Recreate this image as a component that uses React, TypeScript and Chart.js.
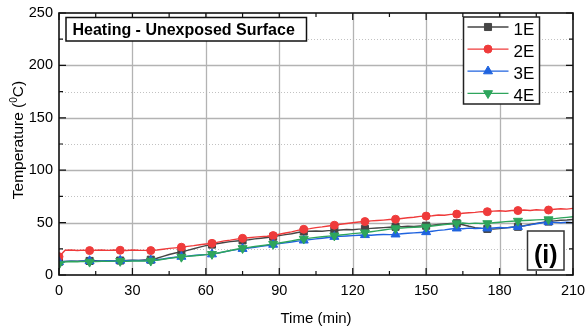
import { useEffect, useRef } from "react";
import { Chart, registerables } from "chart.js";

Chart.register(...registerables);

// Time axis (min), sampled every 2.5 min
const TIME_MIN = [
  0, 2.5, 5, 7.5, 10, 12.5, 15, 17.5, 20, 22.5,
  25, 27.5, 30, 32.5, 35, 37.5, 40, 42.5, 45, 47.5,
  50, 52.5, 55, 57.5, 60, 62.5, 65, 67.5, 70, 72.5,
  75, 77.5, 80, 82.5, 85, 87.5, 90, 92.5, 95, 97.5,
  100, 102.5, 105, 107.5, 110, 112.5, 115, 117.5, 120, 122.5,
  125, 127.5, 130, 132.5, 135, 137.5, 140, 142.5, 145, 147.5,
  150, 152.5, 155, 157.5, 160, 162.5, 165, 167.5, 170, 172.5,
  175, 177.5, 180, 182.5, 185, 187.5, 190, 192.5, 195, 197.5,
  200, 202.5, 205, 207.5, 210,
];

// Unexposed-surface temperatures (°C)
const T_1E = [
  12.6, 13.0, 13.2, 13.1, 13.4, 13.4, 13.6, 13.3, 13.7, 13.5,
  13.8, 13.9, 14.1, 14.0, 14.3, 14.6, 16.0, 17.8, 19.6, 21.0,
  22.0, 23.5, 25.0, 26.6, 28.0, 29.0, 30.0, 31.0, 31.8, 32.4,
  33.0, 33.6, 34.5, 35.1, 35.8, 36.5, 37.6, 38.5, 39.4, 40.6,
  41.5, 41.8, 42.0, 41.7, 42.3, 42.5, 43.0, 43.4, 43.2, 43.8,
  44.0, 44.5, 44.9, 45.2, 45.6, 46.0, 46.2, 46.5, 46.3, 46.8,
  47.0, 47.6, 48.2, 48.8, 49.2, 49.4, 48.0, 46.5, 45.2, 44.5,
  44.0, 43.8, 44.3, 45.0, 45.6, 46.0, 47.0, 48.2, 49.3, 50.2,
  51.0, 51.6, 52.2, 52.5, 53.0,
];
const T_2E = [
  17.5, 23.6, 23.8, 23.4, 23.7, 23.3, 23.6, 23.9, 23.5, 23.8,
  23.6, 23.4, 23.9, 23.6, 23.5, 23.3, 23.8, 24.6, 25.4, 25.9,
  26.5, 27.3, 28.0, 28.9, 29.6, 30.2, 31.4, 32.6, 33.3, 34.2,
  35.0, 35.5, 36.1, 36.6, 37.0, 37.6, 38.9, 40.1, 41.2, 42.6,
  43.6, 44.3, 45.2, 45.9, 46.8, 47.5, 48.4, 49.1, 49.8, 50.6,
  51.0, 51.6, 52.0, 52.4, 52.9, 53.2, 53.9, 54.6, 55.1, 55.9,
  56.2, 56.6, 57.3, 57.0, 57.8, 58.1, 58.9, 59.4, 59.8, 60.5,
  60.4, 60.9, 61.3, 60.8, 61.6, 61.5, 62.0, 61.6, 62.3, 61.9,
  62.0, 62.8, 63.2, 62.9, 63.6,
];
const T_3E = [
  12.4, 12.9, 13.2, 13.0, 13.3, 13.4, 13.2, 13.5, 13.6, 13.4,
  13.8, 13.6, 13.9, 14.0, 13.8, 14.0, 14.6, 15.3, 16.2, 16.9,
  17.5, 18.0, 18.6, 19.1, 19.4, 19.8, 20.9, 22.1, 23.2, 24.2,
  25.0, 25.8, 26.5, 27.3, 28.1, 29.0, 29.9, 30.7, 31.5, 32.3,
  33.0, 33.8, 34.5, 35.1, 35.8, 36.5, 36.9, 37.2, 37.6, 37.9,
  38.2, 38.0, 38.4, 38.7, 38.5, 38.8, 39.3, 39.8, 40.2, 40.6,
  41.0, 41.8, 42.6, 43.1, 43.9, 44.5, 44.2, 44.7, 44.3, 44.6,
  44.5, 44.9, 45.3, 45.0, 45.6, 46.0, 46.9, 47.8, 48.9, 49.8,
  50.5, 50.2, 49.8, 50.3, 50.0,
];
const T_4E = [
  10.2, 12.6, 12.9, 12.7, 13.0, 12.5, 12.8, 13.1, 13.0, 13.2,
  13.2, 13.0, 13.4, 13.5, 13.3, 13.5, 14.1, 15.0, 15.9, 16.7,
  17.2, 17.8, 18.4, 18.9, 19.4, 19.9, 21.0, 22.2, 23.4, 24.6,
  25.5, 26.4, 27.2, 27.9, 28.7, 29.5, 30.5, 31.5, 32.6, 33.6,
  34.5, 35.2, 35.9, 36.5, 37.1, 37.5, 38.2, 38.8, 39.5, 40.0,
  40.5, 41.3, 42.1, 42.9, 43.8, 44.5, 44.8, 45.2, 45.5, 45.8,
  46.0, 46.8, 47.5, 48.1, 48.7, 49.2, 49.6, 49.0, 49.5, 49.1,
  49.3, 49.9, 50.4, 50.9, 51.3, 51.6, 52.0, 52.3, 52.6, 52.8,
  53.0, 53.8, 54.5, 55.0, 55.6,
];

const SERIES_NAMES = ["1E", "2E", "3E", "4E"];
const X_TICKS = [0, 30, 60, 90, 120, 150, 180, 210];
const Y_TICKS = [0, 50, 100, 150, 200, 250];
const TITLE = "Heating - Unexposed Surface";
const PANEL_TAG = "(i)";

const FONT = "Arial, 'Liberation Sans', sans-serif";
const COLORS = ["#454545", "#ef3b3b", "#1f63df", "#2ea55c"];
const MARKERS = [
  { style: "rect", radius: 5, rotation: 0 },
  { style: "circle", radius: 4, rotation: 0 },
  { style: "triangle", radius: 5.2, rotation: 0 },
  { style: "triangle", radius: 5.2, rotation: 180 },
];

function mids(arr: number[]) {
  const out: number[] = [];
  for (let i = 0; i < arr.length - 1; i++) out.push((arr[i] + arr[i + 1]) / 2);
  return out;
}

// legend symbol, same geometry as the line markers
function drawMarker(ctx: CanvasRenderingContext2D, m: { style: string; radius: number; rotation: number }, cx: number, cy: number) {
  const r = m.radius;
  ctx.beginPath();
  if (m.style === "circle") {
    ctx.arc(cx, cy, r, 0, Math.PI * 2);
  } else if (m.style === "rect") {
    const s = r * Math.SQRT1_2;
    ctx.rect(cx - s, cy - s, 2 * s, 2 * s);
  } else {
    const dir = m.rotation === 180 ? -1 : 1;
    const h = Math.sin(Math.PI / 3) * r;
    ctx.moveTo(cx, cy - dir * r);
    ctx.lineTo(cx + h, cy + dir * r / 2);
    ctx.lineTo(cx - h, cy + dir * r / 2);
    ctx.closePath();
  }
  ctx.fill();
  ctx.stroke();
}

const decor = {
  id: "decor",
  beforeDatasetsDraw(chart: any) {
    const { ctx, chartArea: a, scales } = chart;
    const x = scales.x;
    const y = scales.y;
    ctx.save();
    ctx.lineWidth = 1;
    // minor dotted horizontals
    ctx.strokeStyle = "#c2c2c2";
    ctx.setLineDash([1, 2]);
    for (const v of mids(Y_TICKS)) {
      const py = Math.round(y.getPixelForValue(v)) + 0.5;
      ctx.beginPath();
      ctx.moveTo(a.left, py);
      ctx.lineTo(a.right, py);
      ctx.stroke();
    }
    ctx.setLineDash([]);
    ctx.strokeStyle = "#b3b3b3";
    ctx.lineWidth = 1.3;
    for (const v of Y_TICKS.slice(1, -1)) {
      const py = Math.round(y.getPixelForValue(v)) + 0.5;
      ctx.beginPath();
      ctx.moveTo(a.left, py);
      ctx.lineTo(a.right, py);
      ctx.stroke();
    }
    for (const v of X_TICKS.slice(1, -1)) {
      const px = Math.round(x.getPixelForValue(v)) + 0.5;
      ctx.beginPath();
      ctx.moveTo(px, a.top);
      ctx.lineTo(px, a.bottom);
      ctx.stroke();
    }
    ctx.restore();
  },
  afterDraw(chart: any) {
    const { ctx, chartArea: a, scales } = chart;
    const x = scales.x;
    const y = scales.y;
    ctx.save();

    // frame
    ctx.strokeStyle = "#111";
    ctx.lineWidth = 1.6;
    ctx.strokeRect(a.left, a.top, a.right - a.left, a.bottom - a.top);

    // inward ticks on all four sides
    ctx.lineWidth = 1.2;
    const xt = (v: number, len: number) => {
      const px = x.getPixelForValue(v);
      ctx.beginPath();
      ctx.moveTo(px, a.bottom);
      ctx.lineTo(px, a.bottom - len);
      ctx.moveTo(px, a.top);
      ctx.lineTo(px, a.top + len);
      ctx.stroke();
    };
    const yt = (v: number, len: number) => {
      const py = y.getPixelForValue(v);
      ctx.beginPath();
      ctx.moveTo(a.left, py);
      ctx.lineTo(a.left + len, py);
      ctx.moveTo(a.right, py);
      ctx.lineTo(a.right - len, py);
      ctx.stroke();
    };
    X_TICKS.forEach((v) => xt(v, 7));
    mids(X_TICKS).forEach((v) => xt(v, 4));
    Y_TICKS.forEach((v) => yt(v, 7));
    mids(Y_TICKS).forEach((v) => yt(v, 4));

    // title box
    ctx.fillStyle = "#fff";
    ctx.fillRect(66, 17.5, 240.5, 23.5);
    ctx.strokeStyle = "#111";
    ctx.lineWidth = 1.5;
    ctx.strokeRect(66, 17.5, 240.5, 23.5);
    ctx.fillStyle = "#000";
    ctx.font = `bold 16px ${FONT}`;
    ctx.textAlign = "left";
    ctx.textBaseline = "alphabetic";
    ctx.fillText(TITLE, 72.5, 35);

    // legend
    const lx = 463.5, ly = 17, lw = 76, lh = 87;
    ctx.fillStyle = "#fff";
    ctx.fillRect(lx, ly, lw, lh);
    ctx.strokeStyle = "#222";
    ctx.lineWidth = 1.5;
    ctx.strokeRect(lx, ly, lw, lh);
    chart.data.datasets.forEach((ds: any, i: number) => {
      const rowY = 27 + 22.1 * i;
      ctx.strokeStyle = ds.borderColor;
      ctx.lineWidth = 1.3;
      ctx.beginPath();
      ctx.moveTo(467.5, rowY);
      ctx.lineTo(508.5, rowY);
      ctx.stroke();
      ctx.fillStyle = ds.borderColor;
      ctx.lineWidth = 1;
      drawMarker(ctx, MARKERS[i], 488, rowY);
      ctx.fillStyle = "#000";
      ctx.font = `17px ${FONT}`;
      ctx.textAlign = "left";
      ctx.fillText(ds.label, 513.5, rowY + 7.5);
    });

    // panel tag
    ctx.fillStyle = "#fff";
    ctx.fillRect(527.5, 231, 36.5, 39);
    ctx.strokeStyle = "#333";
    ctx.lineWidth = 1.5;
    ctx.strokeRect(527.5, 231, 36.5, 39);
    ctx.fillStyle = "#000";
    ctx.font = `bold 25px ${FONT}`;
    ctx.textAlign = "center";
    ctx.fillText(PANEL_TAG, 545.8, 262.5);

    // x axis title
    ctx.font = `15px ${FONT}`;
    ctx.textAlign = "center";
    ctx.fillText("Time (min)", (a.left + a.right) / 2, 323);

    // y axis title with superscript
    ctx.translate(22.5, 140);
    ctx.rotate(-Math.PI / 2);
    ctx.textAlign = "left";
    const big = `15.5px ${FONT}`;
    const small = `10px ${FONT}`;
    ctx.font = big;
    const w1 = ctx.measureText("Temperature (").width;
    const w3 = ctx.measureText("C)").width;
    ctx.font = small;
    const w2 = ctx.measureText("0").width;
    let sx = -(w1 + w2 + w3) / 2;
    ctx.font = big;
    ctx.fillText("Temperature (", sx, 0);
    sx += w1;
    ctx.font = small;
    ctx.fillText("0", sx, -6);
    sx += w2;
    ctx.font = big;
    ctx.fillText("C)", sx, 0);

    ctx.restore();
  },
};

export default function App() {
  const ref = useRef<HTMLCanvasElement | null>(null);

  useEffect(() => {
    if (!ref.current) return;
    const all = [T_1E, T_2E, T_3E, T_4E];
    const datasets = all.map((vals, i) => ({
      label: SERIES_NAMES[i],
      data: TIME_MIN.map((t, k) => ({ x: t, y: vals[k] })),
      borderColor: COLORS[i],
      backgroundColor: COLORS[i],
      borderWidth: 1.4,
      pointStyle: MARKERS[i].style,
      pointRotation: MARKERS[i].rotation,
      pointRadius: (c: any) => (c.dataIndex % 5 === 0 && c.dataIndex <= 80 ? MARKERS[i].radius : 0),
      pointBorderWidth: 1,
      pointHoverRadius: 0,
      order: 4 - i,
    }));

    const chart = new Chart(ref.current, {
      type: "line",
      data: { datasets },
      options: {
        animation: false,
        responsive: false,
        events: [],
        layout: { padding: { top: 13, right: 14, left: 0, bottom: 0 } },
        plugins: { legend: { display: false }, tooltip: { enabled: false }, title: { display: false } },
        scales: {
          x: {
            type: "linear",
            min: 0,
            max: 210,
            grid: { display: false, drawTicks: false },
            border: { display: false },
            ticks: { stepSize: 30, padding: 7, color: "#000", font: { family: FONT, size: 14.5 }, maxRotation: 0 },
            afterFit: (s: any) => {
              s.height = 52;
              s.paddingLeft = 0;
              s.paddingRight = 0;
            },
          },
          y: {
            type: "linear",
            min: 0,
            max: 250,
            grid: { display: false, drawTicks: false },
            border: { display: false },
            ticks: { stepSize: 50, padding: 6, color: "#000", font: { family: FONT, size: 14.5 } },
            afterFit: (s: any) => {
              s.width = 59;
              s.paddingTop = 0;
              s.paddingBottom = 0;
            },
          },
        },
      },
      plugins: [decor],
    } as any);
    return () => chart.destroy();
  }, []);

  return (
    <div style={{ position: "fixed", left: 0, top: 0, width: 587, height: 327, background: "#fff" }}>
      <canvas ref={ref} width={587} height={327} style={{ display: "block" }} />
    </div>
  );
}
